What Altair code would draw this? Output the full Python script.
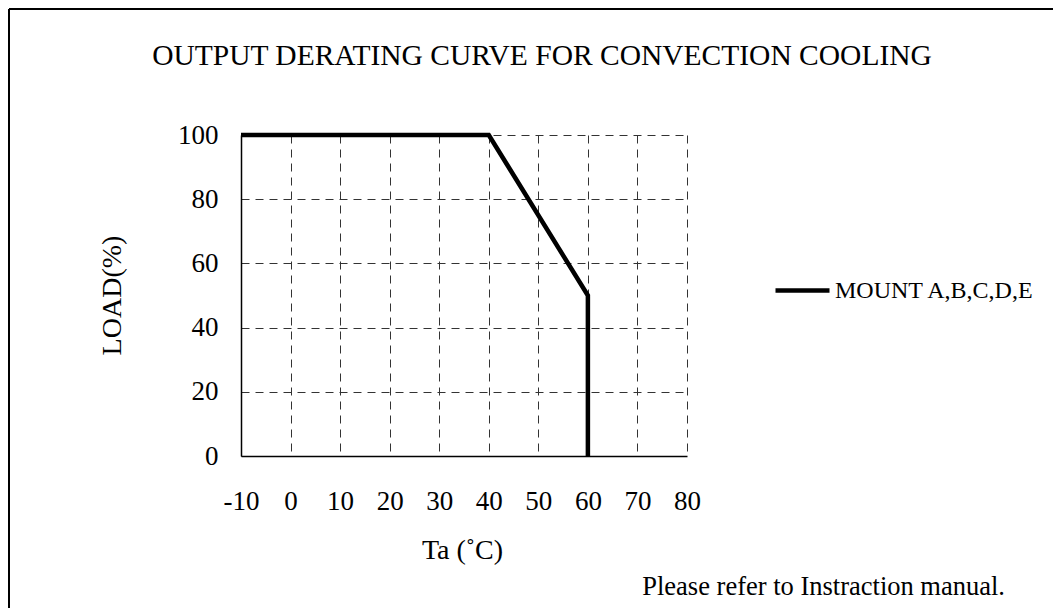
import altair as alt
import pandas as pd

# Data
temps = [-10, 40, 60, 60]
loads = [100, 100, 50, 0]
order = [0, 1, 2, 3]
series = "MOUNT A,B,C,D,E"
x_ticks = [-10, 0, 10, 20, 30, 40, 50, 60, 70, 80]
y_ticks = [0, 20, 40, 60, 80, 100]

title_text = "OUTPUT DERATING CURVE FOR CONVECTION COOLING"
note_text = "Please refer to Instraction manual."

df = pd.DataFrame({"Ta": temps, "LOAD": loads, "idx": order, "series": [series] * len(temps)})

FONT = "Liberation Serif"
W, H = 446, 321
PL, PT = 233, 127
TOTAL_W, TOTAL_H = 1045, 600

line = alt.Chart(df).mark_line(strokeWidth=4.5, strokeCap="butt", strokeJoin="miter").encode(
    x=alt.X("Ta:Q", scale=alt.Scale(domain=[-10, 80], nice=False, zero=False),
            axis=alt.Axis(values=x_ticks, title="Ta (˚C)", titleX=221, titleY=102,
                          titleBaseline="alphabetic", titleAlign="center",
                          labelPadding=32, tickSize=0, ticks=False,
                          labelFlush=False, labelOverlap=False,
                          labelExpr="replace(format(datum.value, 'd'), '\u2212', '-')",
                          gridDash=[8, 6])),
    y=alt.Y("LOAD:Q", scale=alt.Scale(domain=[0, 100], nice=False),
            axis=alt.Axis(values=y_ticks, title="LOAD(%)", titleX=-129, titleY=160,
                          titleAngle=-90, titleBaseline="middle", titleAlign="center",
                          labelPadding=23, tickSize=0, ticks=False,
                          labelFlush=False, labelOverlap=False,
                          gridDash=[8, 6])),
    order="idx:O",
    color=alt.Color("series:N", scale=alt.Scale(range=["black"]),
                    legend=alt.Legend(title=None, orient="none", legendX=532, legendY=126,
                                      symbolType="stroke", symbolSize=2916,
                                      symbolStrokeWidth=4.5, labelOffset=3,
                                      labelFont=FONT, labelFontSize=24, labelColor="black",
                                      labelLimit=400)),
)

txt = pd.DataFrame({"t": [title_text]})
title = alt.Chart(txt).mark_text(font=FONT, fontSize=29.5, color="black", align="center",
                                 baseline="alphabetic").encode(
    text="t:N", x=alt.value(301), y=alt.value(-70))

ntxt = pd.DataFrame({"t": [note_text]})
note = alt.Chart(ntxt).mark_text(font=FONT, fontSize=26.5, color="black", align="right",
                                 baseline="alphabetic").encode(
    text="t:N", x=alt.value(764), y=alt.value(460))

border_top = alt.Chart(txt).mark_rule(color="black", strokeWidth=2).encode(
    x=alt.value(-232), x2=alt.value(TOTAL_W - PL), y=alt.value(-126))
border_left = alt.Chart(txt).mark_rule(color="black", strokeWidth=2).encode(
    x=alt.value(-232), y=alt.value(-126), y2=alt.value(TOTAL_H - PT))

chart = alt.layer(border_top, border_left, line, title, note).properties(
    width=W, height=H,
    autosize=alt.AutoSizeParams(type="none"),
    padding={"left": PL, "top": PT, "right": TOTAL_W - PL - W, "bottom": TOTAL_H - PT - H},
).configure_view(stroke=None).configure_axis(
    labelFont=FONT, labelFontSize=27, labelColor="black",
    titleFont=FONT, titleFontSize=28, titleColor="black", titleFontWeight="normal",
    domainColor="black", domainWidth=1.5,
    gridColor="#333333", gridWidth=1, gridOpacity=1,
)

chart.save("out.html", embed_options={"renderer": "svg", "actions": False})
